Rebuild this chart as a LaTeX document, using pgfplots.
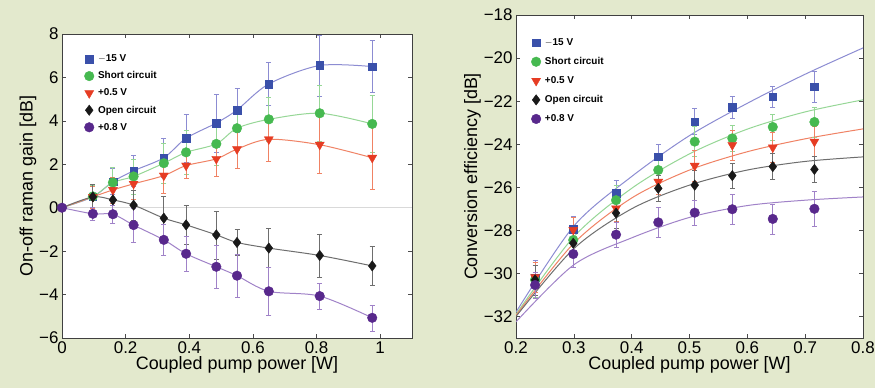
\documentclass[border=0pt]{standalone}
\usepackage{pgfplots}
\pgfplotsset{compat=1.18}
\usepackage{fontspec}
\setmainfont{Liberation Sans}
\definecolor{bg}{RGB}{227,233,205}
\definecolor{cB}{RGB}{58,80,170}
\definecolor{cBl}{RGB}{140,140,210}
\definecolor{cG}{RGB}{70,185,80}
\definecolor{cGl}{RGB}{150,215,150}
\definecolor{cR}{RGB}{230,60,35}
\definecolor{cRl}{RGB}{240,130,100}
\definecolor{cK}{RGB}{25,25,25}
\definecolor{cKl}{RGB}{110,110,110}
\definecolor{cP}{RGB}{88,40,140}
\definecolor{cPl}{RGB}{160,130,200}

\pgfplotsset{
  common/.style={
    scale only axis, anchor=south west,
    axis background/.style={fill=white},
    axis line style={draw=black!75, line width=0.9pt},
    tick style={draw=black!70, line width=0.6pt},
    tick pos=both, tick align=inside, major tick length=4bp,
    ticklabel style={font=\fontsize{17}{19}\selectfont},
    label style={font=\fontsize{18}{20}\selectfont},
    legend style={draw=none, fill=none, font=\fontsize{10}{12}\selectfont\bfseries, row sep=4.5bp,
      nodes={inner xsep=4bp}},
    legend cell align=left,
    error bars/y dir=both, error bars/y explicit,
  },
  fitB/.style={cBl, line width=1pt, smooth, no marks, forget plot},
  fitG/.style={cGl, line width=1pt, smooth, no marks, forget plot},
  fitR/.style={cRl, line width=1pt, smooth, no marks, forget plot},
  fitK/.style={cKl, line width=1pt, smooth, no marks, forget plot},
  fitP/.style={cPl, line width=1pt, smooth, no marks, forget plot},
  datB/.style={only marks, mark=square*, mark size=3.8bp, color=cB, mark options={draw=cB, fill=cB},
    error bars/error bar style={cBl, line width=0.9pt}, error bars/error mark options={cBl, rotate=90, mark size=2.5bp}},
  datG/.style={only marks, mark=*, mark size=4.8bp, color=cG, mark options={draw=cG, fill=cG},
    error bars/error bar style={cGl, line width=0.9pt}, error bars/error mark options={cGl, rotate=90, mark size=2.5bp}},
  datR/.style={only marks, mark=triangle*, mark size=5.2bp, color=cR, mark options={draw=cR, fill=cR, rotate=180},
    error bars/error bar style={cRl, line width=0.9pt}, error bars/error mark options={cRl, rotate=90, mark size=2.5bp}},
  datK/.style={only marks, mark=diamond*, mark size=5.2bp, color=cK, mark options={draw=cK, fill=cK},
    error bars/error bar style={cKl, line width=0.9pt}, error bars/error mark options={cKl, rotate=90, mark size=2.5bp}},
  datP/.style={only marks, mark=*, mark size=4.8bp, color=cP, mark options={draw=cP, fill=cP},
    error bars/error bar style={cPl, line width=0.9pt}, error bars/error mark options={cPl, rotate=90, mark size=2.5bp}},
}

\begin{document}
\begin{tikzpicture}
\fill[bg] (0,0) rectangle (875bp,388bp);
\useasboundingbox (0,0) rectangle (875bp,388bp);

% ---------------- left panel ----------------
\begin{axis}[common,
  at={(62bp,50bp)}, width=350bp, height=304bp,
  xmin=0, xmax=1.1, ymin=-6, ymax=8,
  xtick={0,0.2,0.4,0.6,0.8,1}, xticklabels={0,0.2,0.4,0.6,0.8,1},
  ytick={-6,-4,-2,0,2,4,6,8}, yticklabels={−6,−4,−2,0,2,4,6,8},
  xlabel={Coupled pump power [W]}, ylabel={On-off raman gain [dB]},
  xlabel style={yshift=4bp}, ylabel style={yshift=-4bp},
  legend style={at={(0.055,0.945)}, anchor=north west},
]
\addplot[black!15, line width=1pt, forget plot] coordinates {(0,0) (1.1,0)};
% guide lines
\addplot[fitB] coordinates {(0,0) (0.097,0.5) (0.16,1.2) (0.225,1.7) (0.32,2.3) (0.39,3.2) (0.485,3.9) (0.55,4.5) (0.65,5.7) (0.81,6.55) (0.975,6.5)};
\addplot[fitG] coordinates {(0,0) (0.097,0.52) (0.16,1.16) (0.225,1.44) (0.32,2.05) (0.39,2.55) (0.485,2.94) (0.55,3.66) (0.65,4.07) (0.81,4.35) (0.975,3.86)};
\addplot[fitR] coordinates {(0,0) (0.097,0.5) (0.16,0.82) (0.225,1.1) (0.32,1.48) (0.39,1.94) (0.485,2.25) (0.55,2.7) (0.65,3.15) (0.81,2.9) (0.975,2.3)};
\addplot[fitK] coordinates {(0,0) (0.097,0.5) (0.16,0.36) (0.225,0.12) (0.32,-0.48) (0.39,-0.79) (0.485,-1.25) (0.55,-1.6) (0.65,-1.86) (0.81,-2.2) (0.975,-2.68)};
\addplot[fitP] coordinates {(0,0) (0.097,-0.28) (0.16,-0.3) (0.225,-0.8) (0.32,-1.48) (0.39,-2.12) (0.485,-2.72) (0.55,-3.13) (0.65,-3.85) (0.81,-4.07) (0.975,-5.07)};
% data
\addplot[datB] table[y error=e] {
x y e
0.097 0.5 0.5
0.16 1.2 0.6
0.225 1.7 0.7
0.32 2.3 0.9
0.39 3.2 1.1
0.485 3.9 1.35
0.55 4.5 1.0
0.65 5.7 1.0
0.81 6.55 1.4
0.975 6.5 1.2
};
\addlegendentry{$-$15 V}
\addplot[datG] table[y error=e] {
x y e
0.097 0.52 0.5
0.16 1.16 0.7
0.225 1.44 0.8
0.32 2.05 0.9
0.39 2.55 1.0
0.485 2.94 1.0
0.55 3.66 1.0
0.65 4.07 1.0
0.81 4.35 1.3
0.975 3.86 1.3
};
\addlegendentry{Short circuit}
\addplot[datR] table[y error=e] {
x y e
0.097 0.5 0.5
0.16 0.82 0.6
0.225 1.1 0.7
0.32 1.48 0.8
0.39 1.94 0.6
0.485 2.25 0.8
0.55 2.7 0.9
0.65 3.15 1.0
0.81 2.9 1.3
0.975 2.3 1.45
};
\addlegendentry{+0.5 V}
\addplot[datK] table[y error=e] {
x y e
0.097 0.5 0.6
0.16 0.36 0.6
0.225 0.12 0.7
0.32 -0.48 1.0
0.39 -0.79 0.9
0.485 -1.25 1.1
0.55 -1.6 0.6
0.65 -1.86 0.9
0.81 -2.2 1.0
0.975 -2.68 0.9
};
\addlegendentry{Open circuit}
\addplot[datP] table[y error=e] {
x y e
0 0 0
0.097 -0.28 0.3
0.16 -0.3 0.4
0.225 -0.8 0.8
0.32 -1.48 0.7
0.39 -2.12 0.8
0.485 -2.72 1.0
0.55 -3.13 1.0
0.65 -3.85 1.1
0.81 -4.07 0.6
0.975 -5.07 0.6
};
\addlegendentry{+0.8 V}
\end{axis}

% ---------------- right panel ----------------
\begin{axis}[common,
  at={(516bp,50bp)}, width=347bp, height=323bp,
  xmin=0.2, xmax=0.8, ymin=-33, ymax=-18,
  xtick={0.2,0.3,0.4,0.5,0.6,0.7,0.8}, xticklabels={0.2,0.3,0.4,0.5,0.6,0.7,0.8},
  ytick={-32,-30,-28,-26,-24,-22,-20,-18}, yticklabels={−32,−30,−28,−26,−24,−22,−20,−18},
  xlabel={Coupled pump power [W]}, ylabel={Conversion efficiency [dB]},
  xlabel style={yshift=4bp}, ylabel style={yshift=-4bp},
  legend style={at={(0.035,0.94)}, anchor=north west, row sep=6.5bp},
]
\addplot[fitB] coordinates {(0.2,-31.8) (0.3,-27.8) (0.4,-25.5) (0.5,-23.6) (0.6,-22.1) (0.7,-20.75) (0.8,-19.53)};
\addplot[fitG] coordinates {(0.2,-31.9) (0.3,-28.3) (0.4,-26.05) (0.5,-24.45) (0.6,-23.3) (0.7,-22.5) (0.8,-21.94)};
\addplot[fitR] coordinates {(0.2,-31.95) (0.3,-28.6) (0.4,-26.5) (0.5,-25.2) (0.6,-24.35) (0.7,-23.75) (0.8,-23.29)};
\addplot[fitK] coordinates {(0.2,-32.0) (0.3,-28.85) (0.4,-27.0) (0.5,-25.9) (0.6,-25.2) (0.7,-24.8) (0.8,-24.59)};
\addplot[fitP] coordinates {(0.2,-32.25) (0.3,-29.6) (0.4,-28.35) (0.5,-27.4) (0.6,-26.85) (0.7,-26.6) (0.8,-26.45)};
\addplot[datB] table[y error=e] {
x y e
0.233 -30.2 0.8
0.299 -27.95 0.6
0.373 -26.28 0.6
0.446 -24.58 0.6
0.509 -22.95 0.6
0.574 -22.29 0.5
0.644 -21.8 0.5
0.716 -21.33 0.7
};
\addlegendentry{$-$15 V}
\addplot[datG] table[y error=e] {
x y e
0.233 -30.3 0.8
0.299 -28.45 0.6
0.373 -26.6 0.7
0.446 -25.2 0.7
0.509 -23.88 0.7
0.574 -23.73 0.6
0.644 -23.2 0.6
0.716 -22.97 0.7
};
\addlegendentry{Short circuit}
\addplot[datR] table[y error=e] {
x y e
0.233 -30.18 0.7
0.299 -27.98 0.6
0.373 -26.98 0.6
0.446 -25.74 0.6
0.509 -25.0 0.7
0.574 -24.04 0.7
0.644 -24.15 0.7
0.716 -23.88 0.7
};
\addlegendentry{+0.5 V}
\addplot[datK] table[y error=e] {
x y e
0.233 -30.3 0.7
0.299 -28.6 0.6
0.373 -27.2 0.7
0.446 -26.05 0.6
0.509 -25.9 0.7
0.574 -25.46 0.6
0.644 -25.04 0.6
0.716 -25.17 0.6
};
\addlegendentry{Open circuit}
\addplot[datP] table[y error=e] {
x y e
0.233 -30.54 0.6
0.299 -29.1 0.6
0.373 -28.2 0.6
0.446 -27.63 0.7
0.509 -27.18 0.6
0.574 -27.02 0.7
0.644 -27.47 0.7
0.716 -27.0 0.8
};
\addlegendentry{+0.8 V}
\end{axis}
\end{tikzpicture}
\end{document}
